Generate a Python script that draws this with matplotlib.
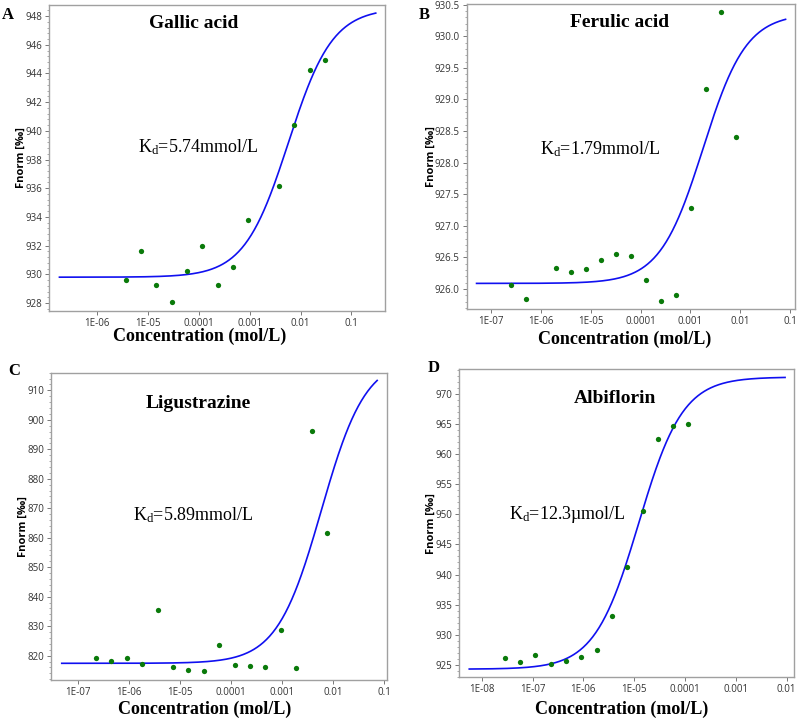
import numpy as np
import matplotlib
matplotlib.use("Agg")
import matplotlib.pyplot as plt
from matplotlib.ticker import FixedLocator, MultipleLocator, AutoMinorLocator, FormatStrFormatter

plt.rcParams['mathtext.fontset'] = 'custom'
plt.rcParams['mathtext.rm'] = 'Liberation Serif'
plt.rcParams['mathtext.it'] = 'Liberation Serif:italic'

# --- data ---
names = ["Gallic acid", "Ferulic acid", "Ligustrazine", "Albiflorin"]
letters = ["A", "B", "C", "D"]
kd_labels = ["5.74mmol/L", "1.79mmol/L", "5.89mmol/L", "12.3\u00b5mol/L"]

conc_a = [3.66e-6, 7.32e-6, 1.46e-5, 2.93e-5, 5.86e-5, 1.17e-4, 2.34e-4, 4.69e-4,
          9.38e-4, 3.75e-3, 7.5e-3, 1.5e-2, 3.0e-2]
fnorm_a = [929.6, 931.64, 929.23, 928.1, 930.25, 931.94, 929.28, 930.48,
           933.82, 936.19, 940.39, 944.26, 944.94]

conc_b = [2.5e-7, 4.9e-7, 1.98e-6, 3.95e-6, 7.9e-6, 1.58e-5, 3.16e-5, 6.3e-5,
          1.27e-4, 2.53e-4, 5.06e-4, 1.01e-3, 2.03e-3, 4.05e-3, 8.1e-3]
fnorm_b = [926.06, 925.85, 926.34, 926.27, 926.31, 926.46, 926.56, 926.53,
           926.14, 925.81, 925.90, 927.29, 929.17, 930.38, 928.41]

conc_c = [2.3e-7, 4.6e-7, 9.2e-7, 1.85e-6, 3.7e-6, 7.4e-6, 1.48e-5, 2.96e-5,
          5.9e-5, 1.18e-4, 2.37e-4, 4.73e-4, 9.46e-4, 1.89e-3, 3.79e-3, 7.57e-3]
fnorm_c = [819.2, 818.2, 819.2, 817.2, 835.6, 816.3, 815.1, 814.7,
           823.7, 816.7, 816.5, 816.3, 828.8, 815.7, 896.2, 861.6]

conc_d = [2.86e-8, 5.7e-8, 1.14e-7, 2.3e-7, 4.6e-7, 9.1e-7, 1.83e-6, 3.66e-6,
          7.3e-6, 1.46e-5, 2.93e-5, 5.85e-5, 1.17e-4]
fnorm_d = [926.2, 925.5, 926.6, 925.2, 925.7, 926.3, 927.4, 933.2,
           941.2, 950.5, 962.4, 964.7, 965.0]

# fit parameters: Kd [M], unbound, bound, fitted range [M]
kd_values = [5.74e-3, 1.79e-3, 5.89e-3, 12.3e-6]
unbound = [929.8, 926.09, 817.4, 924.3]
bound = [948.56, 930.36, 921.1, 972.75]
fit_range = [(1.8e-7, 0.3), (5.1e-8, 0.081), (4.9e-8, 0.073), (5.7e-9, 9.3e-3)]

xtick_vals = [[1e-6, 1e-5, 1e-4, 1e-3, 1e-2, 1e-1],
              [1e-7, 1e-6, 1e-5, 1e-4, 1e-3, 1e-2, 1e-1],
              [1e-7, 1e-6, 1e-5, 1e-4, 1e-3, 1e-2, 1e-1],
              [1e-8, 1e-7, 1e-6, 1e-5, 1e-4, 1e-3, 1e-2]]
xtick_labels = [["1E-06", "1E-05", "0.0001", "0.001", "0.01", "0.1"],
                ["1E-07", "1E-06", "1E-05", "0.0001", "0.001", "0.01", "0.1"],
                ["1E-07", "1E-06", "1E-05", "0.0001", "0.001", "0.01", "0.1"],
                ["1E-08", "1E-07", "1E-06", "1E-05", "0.0001", "0.001", "0.01"]]

# --- layout (figure fractions / axes fractions) ---
axes_rects = [[0.0615, 0.568, 0.4216, 0.425],
              [0.5856, 0.5704, 0.412, 0.424],
              [0.064, 0.0556, 0.4212, 0.4268],
              [0.5763, 0.0593, 0.4203, 0.4278]]
xlims = [(10**-6.95, 10**-0.34), (10**-7.49, 10**-0.90),
         (10**-7.52, 10**-0.95), (10**-8.44, 10**-1.85)]
ylims = [(927.44, 948.77), (925.68, 930.51), (811.75, 916.0), (922.95, 974.04)]
ymajor = [2, 0.5, 10, 5]
yminor = [5, 5, 5, 5]
yfmt = ["%d", "%.1f", "%d", "%d"]
title_pos = [(0.432, 0.941), (0.464, 0.938), (0.438, 0.900), (0.464, 0.904)]
kd_pos = [(0.444, 0.537), (0.406, 0.524), (0.423, 0.537), (0.324, 0.529)]
xlabel_pos = [(0.447, -0.084), (0.482, -0.097), (0.458, -0.094), (0.486, -0.103)]
ylabel_pos = [(-0.084, 0.5), (-0.109, 0.5), (-0.084, 0.5), (-0.084, 0.5)]
letter_pos = [(8.3, 15), (424, 15), (14, 370.7), (434, 368.3)]

concs = [conc_a, conc_b, conc_c, conc_d]
fnorms = [fnorm_a, fnorm_b, fnorm_c, fnorm_d]

W, H = 797, 720
fig = plt.figure(figsize=(W / 100, H / 100), dpi=100)
serif = ['Liberation Serif', 'DejaVu Serif']
sans = ['Open Sans', 'DejaVu Sans']

for i in range(4):
    ax = fig.add_axes(axes_rects[i])
    ax.set_xscale("log")

    # Kd fit curve (simple binding isotherm)
    lo, hi = fit_range[i]
    cx = np.logspace(np.log10(lo), np.log10(hi), 400)
    frac = cx / (cx + kd_values[i])
    ax.plot(cx, unbound[i] + (bound[i] - unbound[i]) * frac, color="#1010f0", lw=1.2, zorder=2)

    ax.plot(concs[i], fnorms[i], "o", color="#0a7a0a", ms=3.8, mec="none", zorder=3)

    ax.set_xlim(*xlims[i])
    ax.set_ylim(*ylims[i])

    ax.xaxis.set_major_locator(FixedLocator(xtick_vals[i]))
    ax.xaxis.set_minor_locator(FixedLocator([]))
    ax.set_xticklabels(xtick_labels[i])
    ax.yaxis.set_major_locator(MultipleLocator(ymajor[i]))
    ax.yaxis.set_minor_locator(AutoMinorLocator(yminor[i]))
    ax.yaxis.set_major_formatter(FormatStrFormatter(yfmt[i]))

    ax.tick_params(axis="both", which="major", length=3, width=0.7, color="#777777",
                   labelsize=7, labelcolor="#333333", pad=2)
    ax.tick_params(axis="y", which="minor", length=1.5, width=0.5, color="#888888")
    for lab in ax.get_xticklabels() + ax.get_yticklabels():
        lab.set_family(sans)
    for s in ax.spines.values():
        s.set_color("#a0a0a0")
        s.set_linewidth(1.0)

    ax.text(*title_pos[i], names[i], transform=ax.transAxes, ha="center", va="center",
            fontsize=14, fontweight="bold", family=serif)
    ax.text(*kd_pos[i], r"K$_{\mathrm{d}}$=" + kd_labels[i], transform=ax.transAxes,
            ha="center", va="center", fontsize=13, family=serif)
    ax.text(*xlabel_pos[i], "Concentration (mol/L)", transform=ax.transAxes,
            ha="center", va="center", fontsize=13, fontweight="bold", family=serif)
    ax.text(*ylabel_pos[i], "Fnorm [\u2030]", transform=ax.transAxes, rotation=90,
            ha="center", va="center", fontsize=8, fontweight="bold", family=sans)

    fig.text(letter_pos[i][0] / W, 1 - letter_pos[i][1] / H, letters[i],
             ha="center", va="center", fontsize=12, fontweight="bold", family=serif)

fig.savefig("out.png", dpi=100)
